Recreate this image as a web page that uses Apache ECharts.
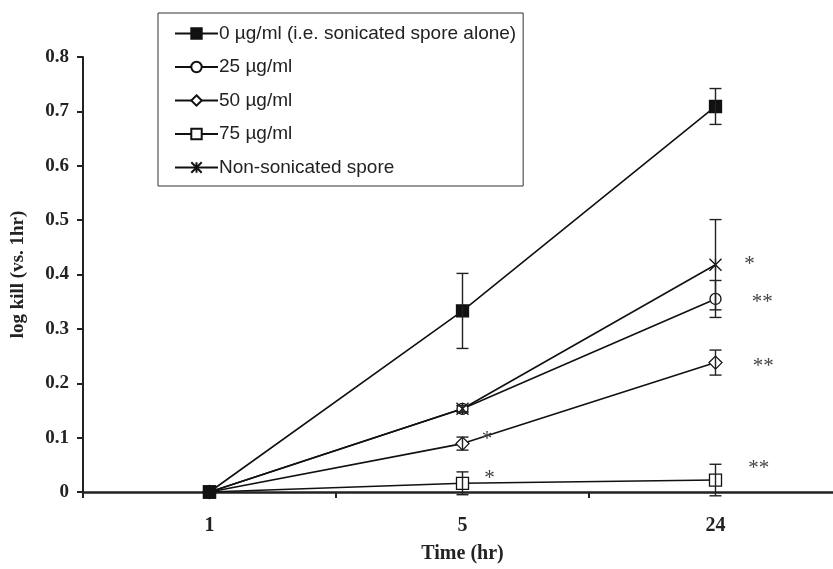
<!DOCTYPE html>
<html>
<head>
<meta charset="utf-8">
<script src="https://cdn.jsdelivr.net/npm/echarts@6/dist/echarts.min.js"></script>
<style>
  html, body { margin: 0; padding: 0; background: #fff; overflow: hidden; }
  #chart { width: 852px; height: 569px; }
</style>
</head>
<body>
<div id="chart"></div>
<script>
const hours = ['1', '5', '24'];
const yTicks = [0, 0.1, 0.2, 0.3, 0.4, 0.5, 0.6, 0.7, 0.8];

const seriesNames = [
  '0 µg/ml (i.e. sonicated spore alone)',
  '25 µg/ml',
  '50 µg/ml',
  '75 µg/ml',
  'Non-sonicated spore'
];

// mean log kill per time point
const kill0 = [0, 0.333, 0.709];
const kill25 = [0, 0.153, 0.355];
const kill50 = [0, 0.089, 0.238];
const kill75 = [0, 0.016, 0.022];
const killNs = [0, 0.153, 0.418];

// error bar half-widths
const err0 = [0, 0.069, 0.033];
const err25 = [0, 0.006, 0.034];
const err50 = [0, 0.012, 0.023];
const err75 = [0, 0.021, 0.029];
const errNs = [0, 0.006, 0.083];

// significance marks
const sig0 = ['', '', ''];
const sig25 = ['', '', '**'];
const sig50 = ['', '*', '**'];
const sig75 = ['', '*', '**'];
const sigNs = ['', '', '*'];

const asterisk = 'path://M0,0L10,10M10,0L0,10M5,0L5,10';
const serif = '"Liberation Serif", "Times New Roman", serif';
const sans = '"Liberation Sans", Arial, sans-serif';

const chart = echarts.init(document.getElementById('chart'));

function lineSeries(name, values, sig, symbol, size, filled, z, sigOffsets) {
  return {
    name: name,
    type: 'line',
    z: z,
    symbol: symbol,
    symbolSize: size,
    showAllSymbol: true,
    lineStyle: { color: '#111', width: 1.6 },
    itemStyle: { color: filled ? '#111' : '#fff', borderColor: '#111', borderWidth: 1.3 },
    data: values.map((v, i) => ({
      value: v,
      label: {
        show: sig[i] !== '',
        formatter: sig[i],
        position: 'right',
        distance: 0,
        offset: sigOffsets[i] || [0, 0],
        fontFamily: serif,
        fontSize: 21,
        color: '#444'
      }
    }))
  };
}

function errorSeries(values, errs) {
  return {
    type: 'custom',
    z: 5,
    silent: true,
    data: values.map((v, i) => [i, v, errs[i]]),
    renderItem: (params, api) => {
      const e = api.value(2);
      if (!e) return null;
      const x = api.value(0);
      const y = api.value(1);
      const top = api.coord([x, y + e]);
      const bot = api.coord([x, y - e]);
      const w = 6;
      const style = { stroke: '#222', lineWidth: 1.4 };
      return {
        type: 'group',
        children: [
          { type: 'line', shape: { x1: top[0], y1: top[1], x2: bot[0], y2: bot[1] }, style: style },
          { type: 'line', shape: { x1: top[0] - w, y1: top[1], x2: top[0] + w, y2: top[1] }, style: style },
          { type: 'line', shape: { x1: bot[0] - w, y1: bot[1], x2: bot[0] + w, y2: bot[1] }, style: style }
        ]
      };
    }
  };
}

const option = {
  backgroundColor: '#fff',
  animation: false,
  grid: { left: 83, top: 57, width: 759, height: 440 },
  legend: {
    orient: 'vertical',
    left: 158,
    top: 13,
    padding: [11, 7, 9, 16],
    itemWidth: 43,
    itemHeight: 13,
    itemGap: 14.5,
    borderColor: '#333',
    borderWidth: 1,
    textStyle: { fontFamily: sans, fontSize: 19, color: '#222', padding: [0, 0, 0, -4] },
    data: seriesNames
  },
  xAxis: {
    type: 'category',
    data: hours,
    boundaryGap: true,
    name: 'Time (hr)',
    nameLocation: 'middle',
    nameGap: 52,
    nameTextStyle: { fontFamily: serif, fontWeight: 'bold', fontSize: 20, color: '#222' },
    axisLine: { lineStyle: { color: '#222', width: 2.5 } },
    axisTick: { show: true, length: 6, lineStyle: { color: '#222', width: 2 } },
    axisLabel: { margin: 24, fontFamily: serif, fontWeight: 'bold', fontSize: 20, color: '#222' },
    splitLine: { show: false }
  },
  yAxis: {
    type: 'value',
    min: yTicks[0],
    max: yTicks[yTicks.length - 1],
    interval: 0.1,
    name: 'log kill (vs. 1hr)',
    nameLocation: 'middle',
    nameGap: 55,
    nameTextStyle: { fontFamily: serif, fontWeight: 'bold', fontSize: 19, color: '#222' },
    axisLine: { show: true, lineStyle: { color: '#222', width: 2 } },
    axisTick: { show: true, length: 6, lineStyle: { color: '#222', width: 2 } },
    axisLabel: {
      margin: 14,
      fontFamily: serif,
      fontWeight: 'bold',
      fontSize: 19,
      color: '#222',
      formatter: v => (v === 0 ? '0' : v.toFixed(1))
    },
    splitLine: { show: false }
  },
  series: [
    lineSeries(seriesNames[0], kill0, sig0, 'rect', 12, true, 4, []),
    lineSeries(seriesNames[1], kill25, sig25, 'circle', 11, false, 3, [null, null, [30, 4]]),
    lineSeries(seriesNames[2], kill50, sig50, 'diamond', 13, false, 3, [null, [12, -4], [30, 4]]),
    lineSeries(seriesNames[3], kill75, sig75, 'rect', 12, false, 3, [null, [15, -5], [26, -12]]),
    lineSeries(seriesNames[4], killNs, sigNs, asterisk, 12, false, 3, [null, null, [22, 0]]),
    errorSeries(kill0, err0),
    errorSeries(kill25, err25),
    errorSeries(kill50, err50),
    errorSeries(kill75, err75),
    errorSeries(killNs, errNs)
  ]
};

chart.setOption(option);
</script>
</body>
</html>
